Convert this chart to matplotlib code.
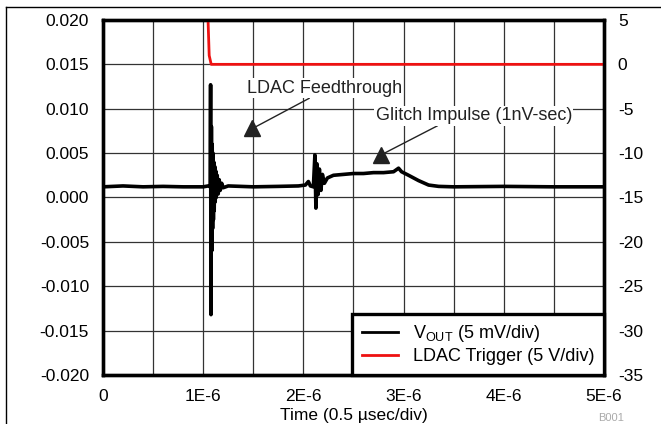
import matplotlib
matplotlib.use("Agg")
import matplotlib.pyplot as plt
from matplotlib.lines import Line2D

plt.rcParams['font.family'] = ['Liberation Sans', 'DejaVu Sans']

# VOUT trace, time in usec, voltage in mV
t_out = [0.00, 0.20, 0.40, 0.60, 0.80, 1.00, 1.05, 1.070, 1.074, 1.078, 1.082,
         1.086, 1.090, 1.094, 1.098, 1.102, 1.106, 1.110, 1.115, 1.120, 1.125,
         1.130, 1.140, 1.150, 1.160, 1.170, 1.185, 1.200, 1.25, 1.50, 1.75,
         1.95, 2.02, 2.05, 2.07, 2.10, 2.115, 2.125, 2.135, 2.145, 2.160,
         2.175, 2.19, 2.21, 2.24, 2.30, 2.40, 2.50, 2.60, 2.70, 2.80, 2.90,
         2.95, 2.98, 3.05, 3.15, 3.25, 3.35, 3.50, 4.00, 4.50, 5.00]
v_out = [1.2, 1.3, 1.2, 1.25, 1.2, 1.2, 1.3, 1.2, 12.7, -13.2, 8.0,
         -6.0, 6.0, -3.5, 5.0, -2.5, 4.0, -1.5, 3.5, -0.5, 3.0,
         0.0, 2.5, 0.4, 2.0, 0.8, 1.6, 1.1, 1.3, 1.2, 1.25,
         1.3, 1.4, 1.8, 1.3, 1.2, 4.8, -1.2, 3.8, 0.3, 3.2,
         0.8, 2.6, 1.6, 2.2, 2.5, 2.6, 2.7, 2.7, 2.8, 2.8, 2.9,
         3.3, 2.9, 2.5, 1.9, 1.4, 1.25, 1.2, 1.25, 1.2, 1.2]

# LDAC trigger, time in usec, volts
t_trig = [0.0, 1.04, 1.06, 1.08, 5.0]
v_trig = [8.0, 8.0, 1.0, 0.0, 0.0]

x_ticks = [0, 1, 2, 3, 4, 5]
x_labels = ['0', '1E-6', '2E-6', '3E-6', '4E-6', '5E-6']
y_left = [-0.020, -0.015, -0.010, -0.005, 0.000, 0.005, 0.010, 0.015, 0.020]
y_right = [-35, -30, -25, -20, -15, -10, -5, 0, 5]

fig = plt.figure(figsize=(6.61, 4.24), dpi=100)
ax = fig.add_axes([0.1558, 0.1156, 0.7579, 0.8373])
ax2 = ax.twinx()

ax.plot(t_out, [v / 1000 for v in v_out], color='black', lw=2.6,
        solid_joinstyle='round', zorder=4)
ax2.plot(t_trig, v_trig, color='#ee1111', lw=2.0)

ax.set_xlim(0, 5)
ax.set_ylim(-0.02, 0.02)
ax2.set_ylim(-35, 5)

ax.set_xticks(x_ticks)
ax.set_xticklabels(x_labels)
ax.set_xticks([0.5, 1.5, 2.5, 3.5, 4.5], minor=True)
ax.set_yticks(y_left)
ax.set_yticklabels(['%.3f' % v for v in y_left])
ax2.set_yticks(y_right)
ax2.set_yticklabels([str(v) for v in y_right])

ax.grid(True, which='both', color='#333333', lw=0.9)
ax.set_axisbelow(True)
for a in (ax, ax2):
    a.tick_params(which='both', length=0, labelsize=12.5, pad=10)
    for s in a.spines.values():
        s.set_linewidth(2.4)
ax.set_xlabel('Time (0.5 \u00b5sec/div)', fontsize=12.5, labelpad=3)

# annotations
ax.plot([1.49], [0.0078], marker='^', color='#222222', ms=11, zorder=5)
ax.annotate('LDAC Feedthrough', xy=(1.53, 0.0080), xytext=(2.21, 0.0123),
            ha='center', va='center', fontsize=13, color='#222222',
            bbox=dict(fc='white', ec='none', pad=1),
            arrowprops=dict(arrowstyle='-', color='#222222', lw=1.0,
                            shrinkA=0, shrinkB=0, relpos=(0.42, 0.0)),
            zorder=5)
ax.plot([2.77], [0.0048], marker='^', color='#222222', ms=11, zorder=5)
ax.annotate('Glitch Impulse (1nV-sec)', xy=(2.81, 0.0050), xytext=(3.70, 0.0092),
            ha='center', va='center', fontsize=13, color='#222222',
            bbox=dict(fc='white', ec='none', pad=1),
            arrowprops=dict(arrowstyle='-', color='#222222', lw=1.0,
                            shrinkA=0, shrinkB=0, relpos=(0.33, 0.0)),
            zorder=5)

handles = [Line2D([], [], color='black', lw=2), Line2D([], [], color='#ee1111', lw=2)]
leg = ax2.legend(handles, ['V$_{\\mathregular{OUT}}$ (5 mV/div)', 'LDAC Trigger (5 V/div)'],
                 loc='lower right', fontsize=13, fancybox=False, framealpha=1,
                 edgecolor='black', borderaxespad=0, handlelength=2.0,
                 labelspacing=0.2, borderpad=0.55)
leg.get_frame().set_linewidth(2.4)

# page frame lines and figure id
fig.add_artist(Line2D([6 / 661, 1], [1 - 7 / 424, 1 - 7 / 424], color='black', lw=1))
fig.add_artist(Line2D([6 / 661, 6 / 661], [0, 1 - 7 / 424], color='black', lw=1))
fig.text(0.905, 0.002, 'B001', fontsize=8, color='#aaaaaa', va='bottom')

fig.savefig('out.png', dpi=100)
